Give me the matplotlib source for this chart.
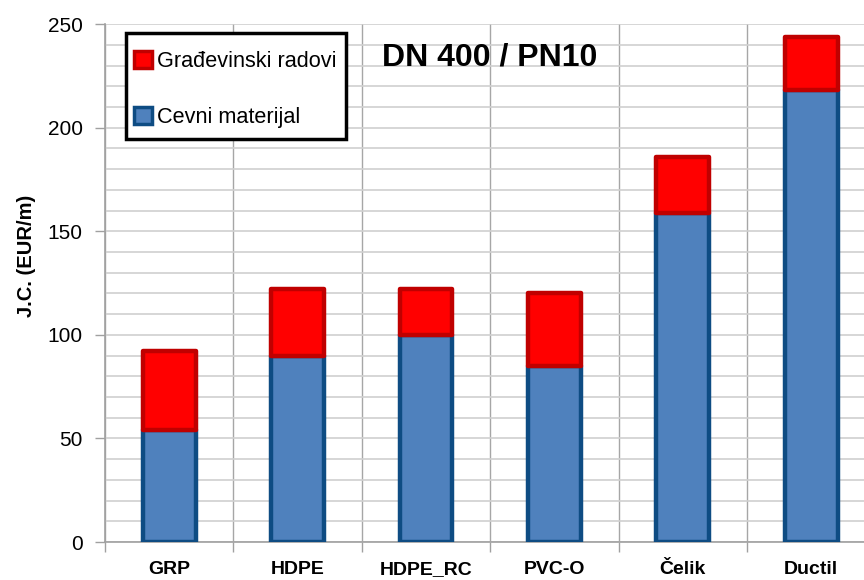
import matplotlib
matplotlib.use("Agg")
import matplotlib.pyplot as plt
import numpy as np
from matplotlib.patches import Patch, Rectangle

plt.rcParams["font.family"] = ["Liberation Sans", "DejaVu Sans"]

categories = ["GRP", "HDPE", "HDPE_RC", "PVC-O", "Čelik", "Ductil"]
cevni = [54, 90, 100, 85, 159, 218]        # Cevni materijal
gradjevinski = [38, 32, 22, 35, 27, 26]    # Građevinski radovi

x = np.arange(len(categories))
fig = plt.figure(figsize=(8.64, 5.8), dpi=100)
ax = fig.add_axes([0.1215, 0.0655, 0.8917, 0.893])

w = 0.41
b1 = ax.bar(x, cevni, w, color="#4F81BD", edgecolor="#0E4C83", linewidth=3.2, zorder=3)
b2 = ax.bar(x, gradjevinski, w, bottom=cevni, color="#FF0000", edgecolor="#C00000",
            linewidth=3.2, zorder=3)
for p in list(b1) + list(b2):
    p.set_joinstyle("round")

ax.set_xlim(-0.5, 5.5)
ax.set_ylim(0, 250)
ax.set_yticks(np.arange(0, 251, 50))
ax.set_yticks(np.arange(0, 251, 10), minor=True)
ax.set_xticks(x)
ax.set_xticklabels(categories, fontsize=14, fontweight="bold")
ax.set_xticks(np.arange(-0.5, 5.6, 1), minor=True)

ax.tick_params(axis="x", which="major", length=0, pad=14)
ax.tick_params(axis="x", which="minor", length=7, color="#A0A0A0", width=1)
ax.tick_params(axis="y", which="major", length=7, color="#A0A0A0", width=1,
               labelsize=15, pad=9)
ax.tick_params(axis="y", which="minor", length=0)

ax.yaxis.grid(True, which="both", color="#CFCFCF", linewidth=1.2, zorder=0)
ax.xaxis.grid(True, which="minor", color="#A6A6A6", linewidth=1, zorder=0)
ax.set_axisbelow(True)

for s in ["top", "right"]:
    ax.spines[s].set_visible(False)
for s in ["left", "bottom"]:
    ax.spines[s].set_color("#A0A0A0")
    ax.spines[s].set_linewidth(1.2)

fig.text(26 / 864, 1 - 256 / 580, "J.C. (EUR/m)", rotation=90, fontsize=14.5,
         fontweight="bold", ha="center", va="center")

ax.text(490 / 864, 1 - 57 / 580, "DN 400 / PN10", transform=fig.transFigure,
        fontsize=23, fontweight="bold", ha="center", va="center", zorder=6)

# legend box
ax.add_patch(Rectangle((126 / 864, 1 - 139 / 580), 220 / 864, 106 / 580,
                       transform=fig.transFigure, facecolor="white",
                       edgecolor="black", linewidth=2.5, clip_on=False, zorder=4))
handles = [Patch(facecolor="#FF0000", edgecolor="#C00000", linewidth=2.5),
           Patch(facecolor="#4F81BD", edgecolor="#0E4C83", linewidth=2.5)]
leg = ax.legend(handles, ["Građevinski radovi", "Cevni materijal"],
                loc="upper left", bbox_to_anchor=(134 / 864, 1 - 51 / 580),
                bbox_transform=fig.transFigure, fontsize=15.6, frameon=False,
                handlelength=0.83, handleheight=0.83,
                handletextpad=0.25, labelspacing=1.62, borderpad=0,
                borderaxespad=0)
leg.set_zorder(5)

fig.savefig("out.png", dpi=100)
